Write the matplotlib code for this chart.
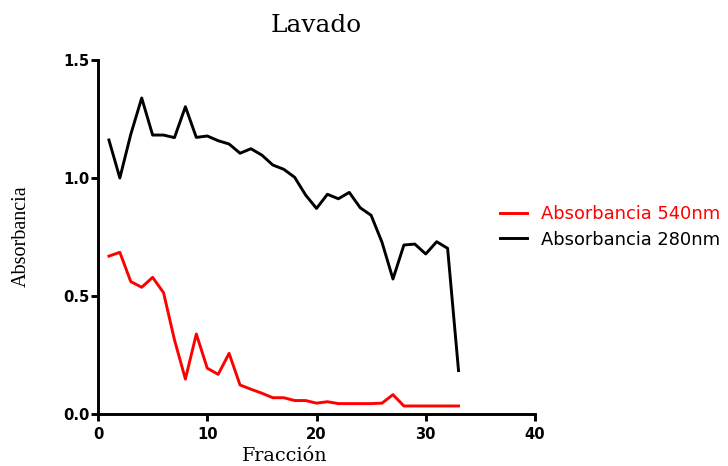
import matplotlib
matplotlib.use("Agg")
import matplotlib.pyplot as plt

fraccion = list(range(1, 34))
abs_540 = [0.669, 0.685, 0.561, 0.537, 0.579, 0.514, 0.314, 0.148, 0.339, 0.194,
           0.168, 0.257, 0.123, 0.105, 0.088, 0.069, 0.069, 0.057, 0.057, 0.046,
           0.052, 0.044, 0.044, 0.044, 0.044, 0.046, 0.082, 0.034, 0.034, 0.034,
           0.034, 0.034, 0.034]
abs_280 = [1.161, 1.000, 1.185, 1.339, 1.182, 1.182, 1.171, 1.302, 1.172, 1.178,
           1.158, 1.144, 1.105, 1.124, 1.097, 1.055, 1.037, 1.003, 0.928, 0.871,
           0.931, 0.912, 0.939, 0.874, 0.842, 0.727, 0.572, 0.716, 0.720, 0.678,
           0.730, 0.702, 0.184]

x_ticks = [0, 10, 20, 30, 40]
y_ticks = [0.0, 0.5, 1.0, 1.5]
y_ticklabels = ["0.0", "0.5", "1.0", "1.5"]

W, H = 728, 466
fig = plt.figure(figsize=(W / 100, H / 100), dpi=100)
ax = fig.add_axes([98 / W, (H - 414) / H, (535 - 98) / W, (414 - 60) / H])

l1, = ax.plot(fraccion, abs_540, color="#ff0000", lw=2.1, label="Absorbancia 540nm")
l2, = ax.plot(fraccion, abs_280, color="black", lw=2.1, label="Absorbancia 280nm")

ax.set_xlim(0, 40)
ax.set_ylim(0, 1.5)
ax.set_xticks(x_ticks)
ax.set_yticks(y_ticks)
ax.set_yticklabels(y_ticklabels)

for s in ["top", "right"]:
    ax.spines[s].set_visible(False)
for s in ["left", "bottom"]:
    ax.spines[s].set_linewidth(2.1)
    ax.spines[s].set_capstyle("projecting")

ax.tick_params(axis="both", direction="out", length=4.8, width=2.1,
               labelsize=10.6)
ax.tick_params(axis="y", pad=1.2)
ax.tick_params(axis="x", pad=4.5)
for lab in ax.get_xticklabels() + ax.get_yticklabels():
    lab.set_fontfamily("DejaVu Sans")
    lab.set_fontweight("bold")

# titles and axis labels
fig.text(316 / W, (H - 31.7) / H, "Lavado", family="DejaVu Serif", fontsize=17.8,
         ha="center", va="baseline")
fig.text(285 / W, (H - 461) / H, "Fracción", family="DejaVu Serif", fontsize=13.8,
         ha="center", va="baseline")
fig.text(21 / W, (H - 236) / H, "Absorbancia", family="Liberation Serif",
         fontsize=14.5, rotation=90, ha="center", va="center")

leg = fig.legend(handles=[l1, l2], loc="center left",
                 bbox_to_anchor=(500 / W, (H - 227) / H), frameon=False,
                 prop={"family": "DejaVu Sans", "size": 12.9},
                 handlelength=1.5, handletextpad=0.8, labelspacing=0.42,
                 borderpad=0, borderaxespad=0)
leg.get_texts()[0].set_color("#ff0000")
leg.get_texts()[1].set_color("black")

fig.savefig("out.png", dpi=100)
